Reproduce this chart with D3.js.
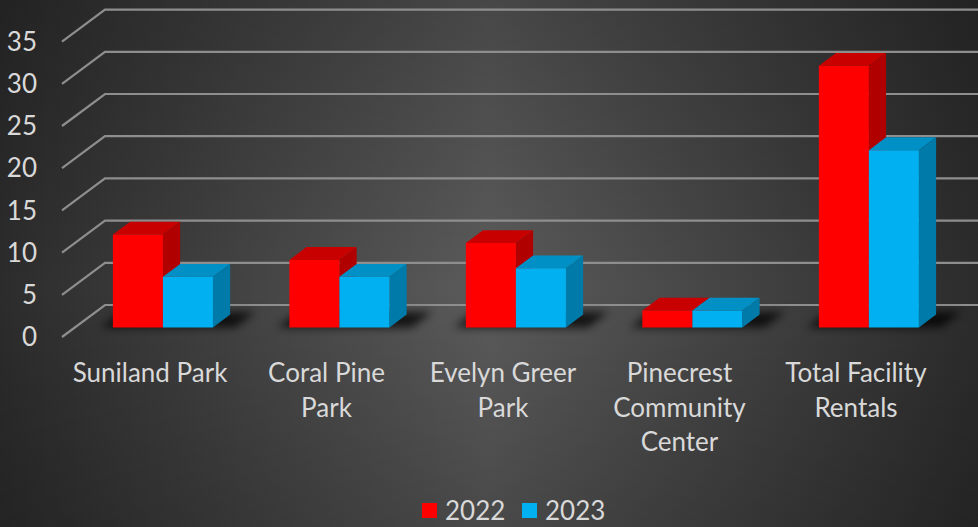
<!DOCTYPE html>
<html>
<head>
<meta charset="utf-8">
<script src="https://cdn.jsdelivr.net/npm/d3@7"></script>
<style>
  html, body { margin: 0; padding: 0; background: #2e2e2e; }
  svg { display: block; }
  text { font-family: Lato, "Open Sans", sans-serif; fill: #d9d9d9; }
</style>
</head>
<body>
<svg id="chart" width="978" height="527"></svg>
<script>
// Facility rentals by location, 2022 vs 2023
const categories = ["Suniland Park", "Coral Pine Park", "Evelyn Greer Park", "Pinecrest Community Center", "Total Facility Rentals"];
const series = ["2022", "2023"];
const values2022 = [11, 8, 10, 2, 31];
const values2023 = [6, 6, 7, 2, 21];
const yTicks = [0, 5, 10, 15, 20, 25, 30, 35];

const seriesValues = [values2022, values2023];
const palette = {
  "2022": { front: "#ff0000", top: "#c80000", side: "#b00000" },
  "2023": { front: "#00b0f0", top: "#0090c6", side: "#007aa8" }
};

const W = 978, H = 527;
const svg = d3.select("#chart");
const defs = svg.append("defs");

// background: dark gradient, lighter towards the middle
const hg = defs.append("linearGradient").attr("id", "bgH").attr("x1", 0).attr("x2", 1).attr("y1", 0).attr("y2", 0);
hg.append("stop").attr("offset", 0).attr("stop-color", "#2c2c2c");
hg.append("stop").attr("offset", 0.5).attr("stop-color", "#5b5b5b");
hg.append("stop").attr("offset", 1).attr("stop-color", "#2c2c2c");
const vg = defs.append("linearGradient").attr("id", "bgV").attr("x1", 0).attr("x2", 0).attr("y1", 0).attr("y2", 1);
vg.append("stop").attr("offset", 0).attr("stop-color", "#000").attr("stop-opacity", 0.22);
vg.append("stop").attr("offset", 0.55).attr("stop-color", "#000").attr("stop-opacity", 0);
vg.append("stop").attr("offset", 1).attr("stop-color", "#000").attr("stop-opacity", 0.2);
svg.append("rect").attr("width", W).attr("height", H).attr("fill", "url(#bgH)");
svg.append("rect").attr("width", W).attr("height", H).attr("fill", "url(#bgV)");

defs.append("filter").attr("id", "soft").attr("x", "-50%").attr("y", "-50%").attr("width", "200%").attr("height", "200%")
  .append("feGaussianBlur").attr("stdDeviation", 4);

// oblique projection: x on the floor's front edge, value, depth fraction (0 front .. 1 back wall)
const depth = { dx: 43, dy: -32 };
const yFront = d3.scaleLinear().domain([0, 35]).range([337, 337 - 35 * 8.44]);
const project = (xf, v, d) => [xf + d * depth.dx, yFront(v) + d * depth.dy];
const barD0 = 0.3, barD1 = 0.7;

const x = d3.scaleBand().domain(categories).range([100, 906]).paddingInner(0.433).paddingOuter(0);
const xs = d3.scaleBand().domain(series).range([0, x.bandwidth()]);

const wallLeft = 62;

// gridlines: diagonal on the side wall, then across the back wall
const grid = svg.append("g");
yTicks.forEach(t => {
  const a = project(wallLeft, t, 0), b = project(wallLeft, t, 1);
  grid.append("path")
    .attr("d", d3.line()([a, b, [W, b[1]]]))
    .attr("fill", "none").attr("stroke", "#8e8e8e").attr("stroke-width", 2.2);
});

// y axis labels
svg.append("g").selectAll("text").data(yTicks).join("text")
  .attr("x", 37).attr("y", t => yFront(t))
  .attr("dy", "0.35em").attr("text-anchor", "end")
  .style("font-size", "26px").text(t => t);

// floor shadows under each group
const poly = pts => "M" + pts.map(p => p.join(",")).join("L") + "Z";
svg.append("g").selectAll("path").data(categories).join("path")
  .attr("d", c => {
    const x0 = x(c) - 12, x1 = x(c) + x.bandwidth() + 22;
    return poly([project(x0, 0, barD0), project(x1, 0, barD0), project(x1, 0, 0.78), project(x0, 0, 0.78)]);
  })
  .attr("fill", "#000").attr("opacity", 0.75).attr("filter", "url(#soft)");

// 3D bars
const bars = svg.append("g");
categories.forEach((c, i) => {
  series.forEach((s, j) => {
    const v = seriesValues[j][i];
    const x0 = x(c) + xs(s), x1 = x0 + xs.bandwidth();
    const col = palette[s];
    const g = bars.append("g");
    g.append("path").attr("fill", col.top)
      .attr("d", poly([project(x0, v, barD0), project(x1, v, barD0), project(x1, v, barD1), project(x0, v, barD1)]));
    g.append("path").attr("fill", col.side)
      .attr("d", poly([project(x1, v, barD0), project(x1, v, barD1), project(x1, 0, barD1), project(x1, 0, barD0)]));
    g.append("path").attr("fill", col.front)
      .attr("d", poly([project(x0, v, barD0), project(x1, v, barD0), project(x1, 0, barD0), project(x0, 0, barD0)]));
  });
});

// category labels, wrapped to the band step
const maxW = 168;
const catG = svg.append("g");
categories.forEach(c => {
  const t = catG.append("text")
    .attr("x", x(c) + x.bandwidth() / 2).attr("y", 382)
    .attr("text-anchor", "middle").style("font-size", "26px");
  const words = c.split(" ");
  let line = [], lineNo = 0;
  let ts = t.append("tspan").attr("x", x(c) + x.bandwidth() / 2).attr("dy", 0);
  words.forEach(w => {
    line.push(w);
    ts.text(line.join(" "));
    if (ts.node().getComputedTextLength() > maxW && line.length > 1) {
      line.pop();
      ts.text(line.join(" "));
      line = [w];
      lineNo++;
      ts = t.append("tspan").attr("x", x(c) + x.bandwidth() / 2).attr("dy", 34.5).text(w);
    }
  });
});

// legend
const legend = svg.append("g");
series.forEach((s, j) => {
  const lx = 422 + j * 100;
  legend.append("rect").attr("x", lx).attr("y", 503).attr("width", 15).attr("height", 15).attr("fill", palette[s].front);
  legend.append("text").attr("x", lx + 23).attr("y", 520).style("font-size", "26px").text(s);
});
</script>
</body>
</html>
